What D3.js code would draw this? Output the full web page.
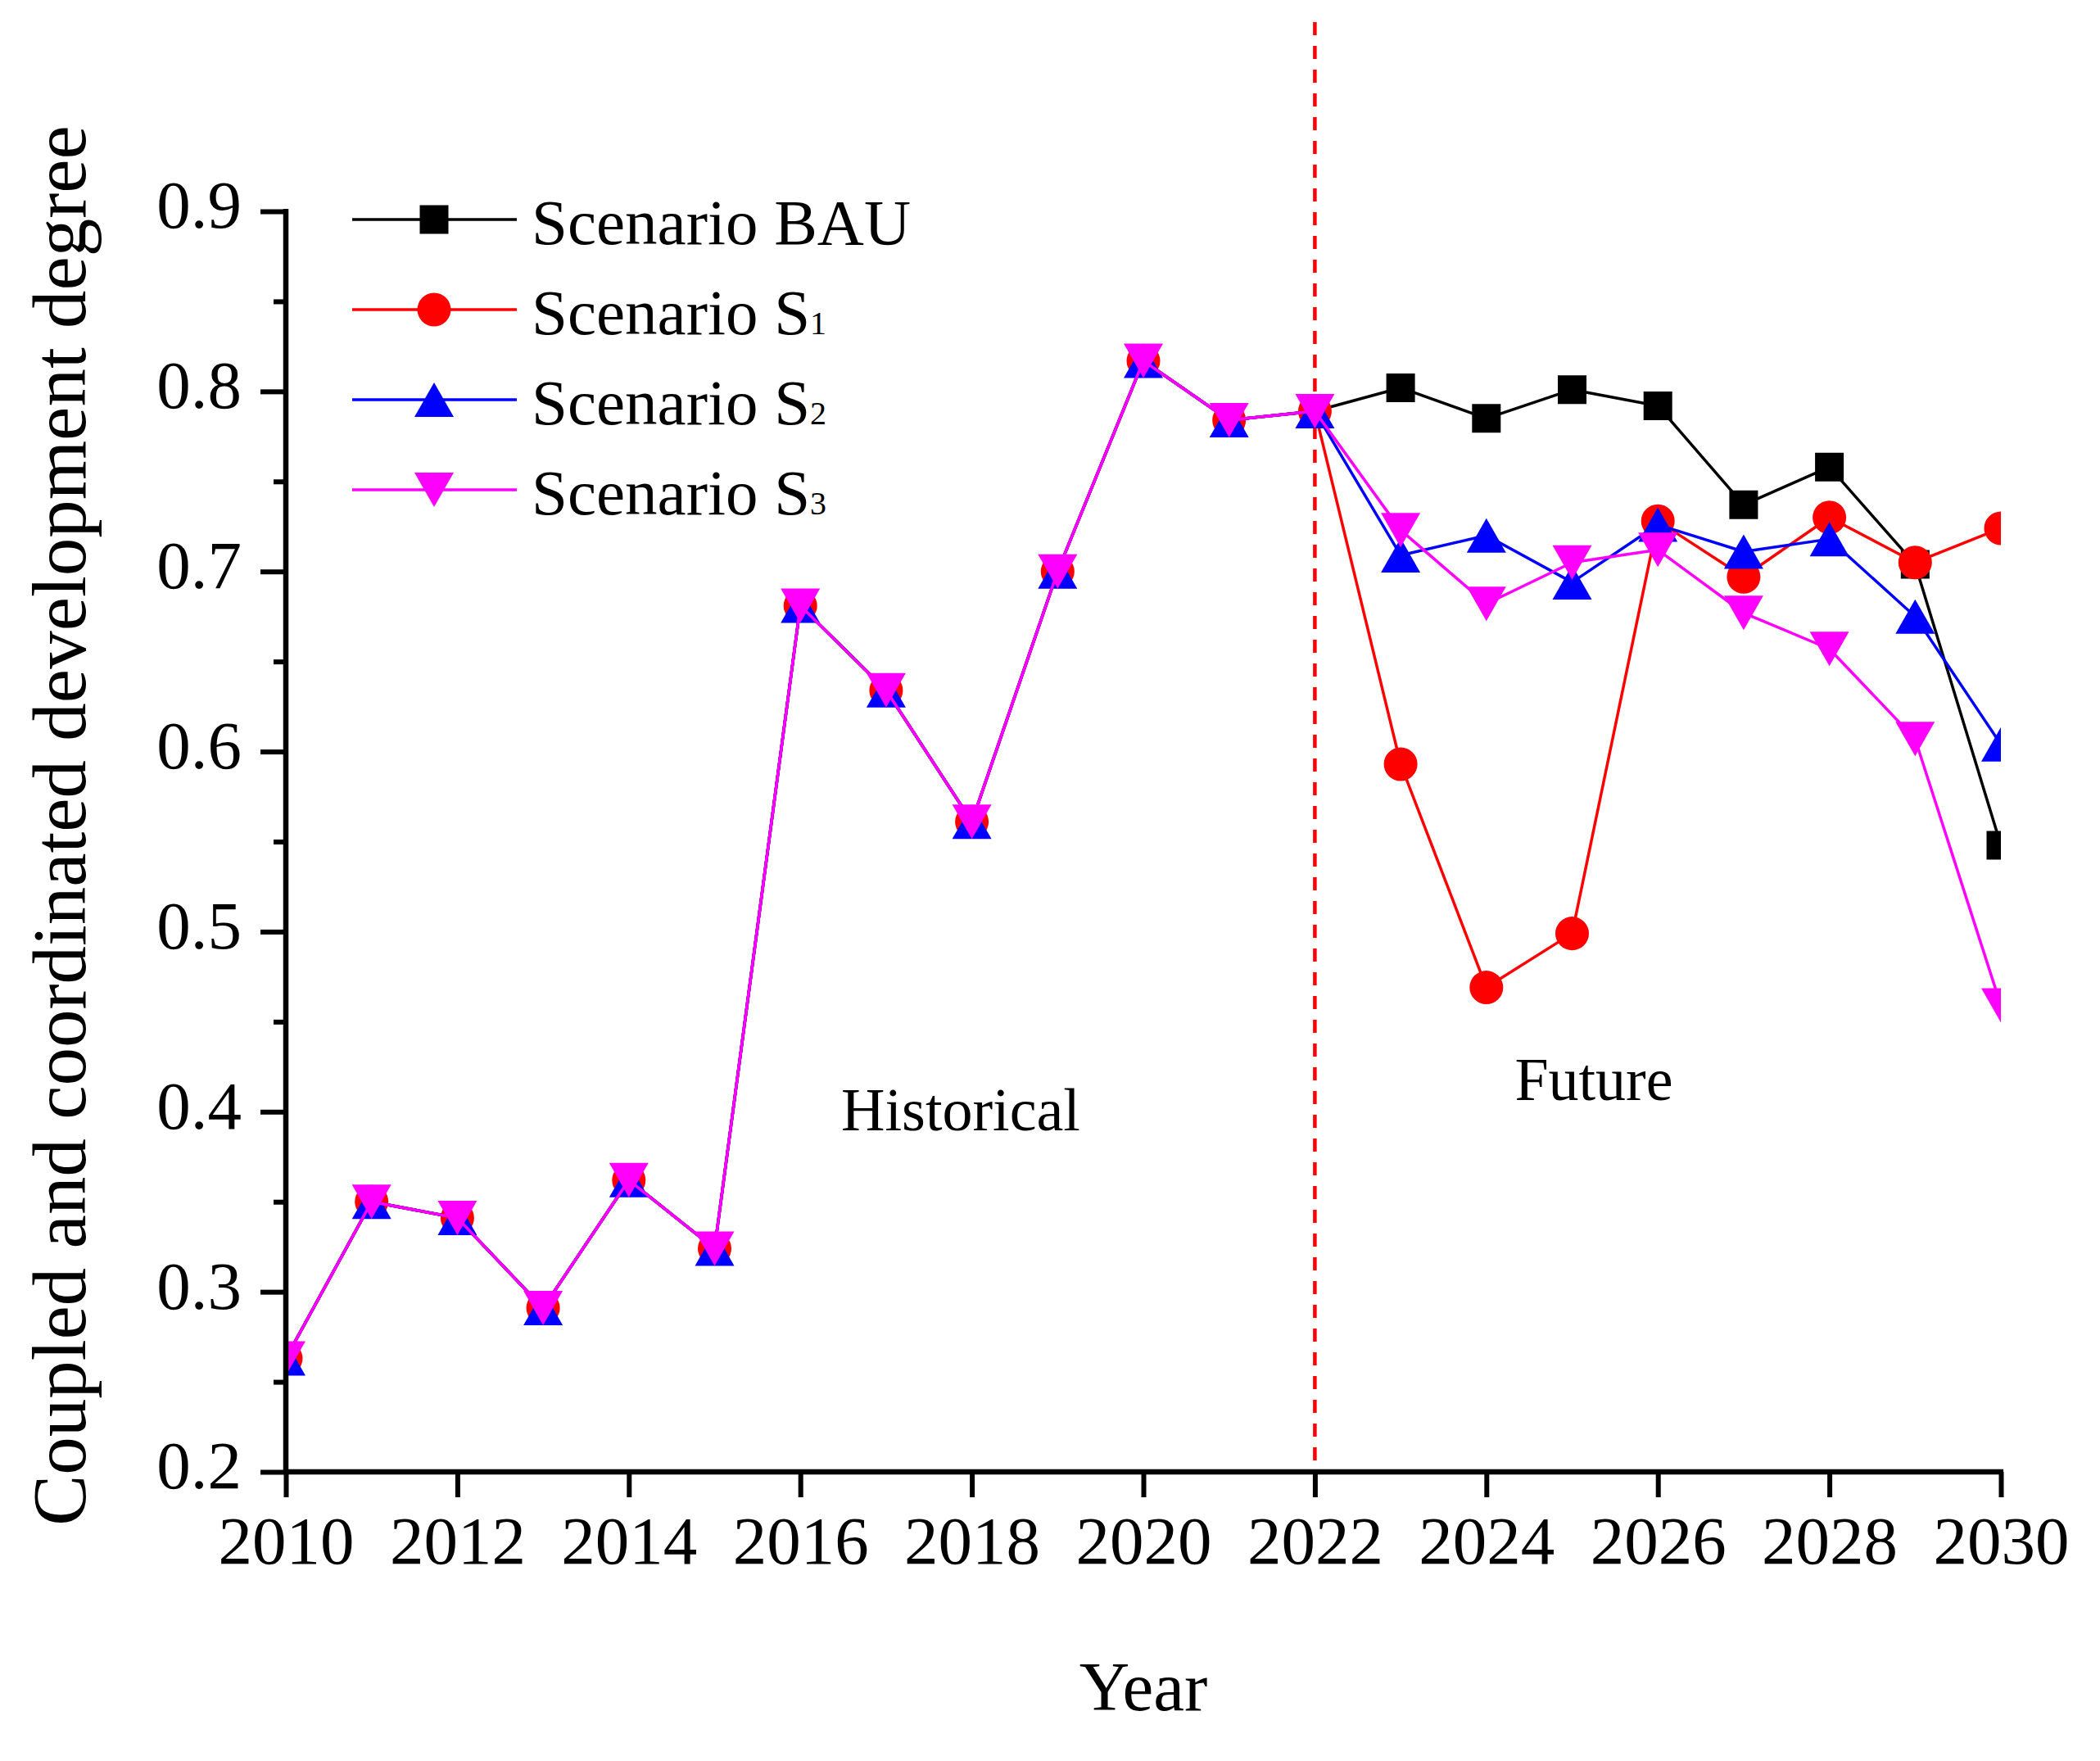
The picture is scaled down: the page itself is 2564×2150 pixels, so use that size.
<!DOCTYPE html>
<html>
<head>
<meta charset="utf-8">
<script src="https://cdn.jsdelivr.net/npm/d3@7/dist/d3.min.js"></script>
<style>
  html, body { margin: 0; padding: 0; background: #fff; }
  svg text { font-family: "Liberation Serif", "Times New Roman", serif; fill: #000; }
</style>
</head>
<body>
<svg id="chart" width="2564" height="2150"></svg>
<script>
// ---- data ----
const years = [2010,2011,2012,2013,2014,2015,2016,2017,2018,2019,2020,2021,2022,2023,2024,2025,2026,2027,2028,2029,2030];
const bau = [0.263,0.350,0.341,0.291,0.362,0.324,0.681,0.634,0.561,0.700,0.817,0.784,0.789,0.802,0.785,0.801,0.792,0.737,0.758,0.704,0.548];
const s1  = [0.263,0.350,0.341,0.291,0.362,0.324,0.681,0.634,0.561,0.700,0.817,0.784,0.789,0.593,0.469,0.499,0.728,0.697,0.730,0.705,0.724];
const s2  = [0.263,0.350,0.341,0.291,0.362,0.324,0.681,0.634,0.561,0.700,0.817,0.784,0.789,0.709,0.720,0.694,0.726,0.711,0.718,0.675,0.604];
const s3  = [0.263,0.350,0.341,0.291,0.362,0.324,0.681,0.634,0.561,0.700,0.817,0.784,0.789,0.723,0.682,0.705,0.712,0.677,0.657,0.607,0.459];
const seriesNames = ["Scenario BAU", "Scenario S", "Scenario S", "Scenario S"];
const seriesSubs = ["", "1", "2", "3"];
const seriesColors = ["#000000", "#ff0000", "#0000ff", "#ff00ff"];
const seriesShapes = ["square", "circle", "triangleUp", "triangleDown"];
const xTicks = [2010,2012,2014,2016,2018,2020,2022,2024,2026,2028,2030];
const yTicks = [0.2,0.3,0.4,0.5,0.6,0.7,0.8,0.9];
const yMinorTicks = [0.25,0.35,0.45,0.55,0.65,0.75,0.85];
const dividerYear = 2022;

// ---- layout ----
const svg = d3.select("#chart");
svg.append("rect").attr("width", 2564).attr("height", 2150).attr("fill", "#fff");
const L = 349, R = 2443, T = 258, B = 1797;
const x = d3.scaleLinear().domain([2010, 2030]).range([L, R]);
const y = d3.scaleLinear().domain([0.2, 0.9]).range([B, T]);

// custom symbols
const shapes = {
  square: { draw(c) { const h = 17.5; c.rect(-h, -h, 2*h, 2*h); } },
  circle: { draw(c) { c.moveTo(20.5, 0); c.arc(0, 0, 20.5, 0, 2*Math.PI); } },
  triangleUp: { draw(c) { c.moveTo(0, -21); c.lineTo(24, 21); c.lineTo(-24, 21); c.closePath(); } },
  triangleDown: { draw(c) { c.moveTo(0, 21); c.lineTo(24, -21); c.lineTo(-24, -21); c.closePath(); } }
};

svg.append("defs").append("clipPath").attr("id", "plotclip")
  .append("rect").attr("x", L).attr("y", 0).attr("width", R - L).attr("height", B);

// divider
svg.append("line")
  .attr("x1", x(dividerYear)).attr("x2", x(dividerYear))
  .attr("y1", 27).attr("y2", B - 8)
  .attr("stroke", "#ff0000").attr("stroke-width", 4.5)
  .attr("stroke-dasharray", "16,13");

// series
const allSeries = [bau, s1, s2, s3];
const plot = svg.append("g").attr("clip-path", "url(#plotclip)");
const line = d3.line().x((d, i) => x(years[i])).y(d => y(d));
allSeries.forEach((vals, si) => {
  const g = plot.append("g");
  g.append("path").datum(vals).attr("d", line)
    .attr("fill", "none").attr("stroke", seriesColors[si]).attr("stroke-width", 3.5)
    .attr("stroke-linejoin", "round");
  const sym = d3.symbol().type(shapes[seriesShapes[si]]);
  g.selectAll("path.m").data(vals).join("path").attr("class", "m")
    .attr("d", sym)
    .attr("transform", (d, i) => `translate(${x(years[i])},${y(d)})`)
    .attr("fill", seriesColors[si]);
});

// axes
const axisW = 6.5;
const yAxis = d3.axisLeft(y).tickValues(yTicks).tickSize(31).tickFormat(d3.format(".1f"));
const gy = svg.append("g").attr("transform", `translate(${L},0)`).call(yAxis);
gy.select(".domain").remove();
gy.selectAll(".tick line").attr("stroke", "#000").attr("stroke-width", 6);
gy.selectAll(".tick text").attr("x", -54).attr("dy", "0.24em")
  .style("font-size", "83px").attr("text-anchor", "end");
const yMinor = d3.axisLeft(y).tickValues(yMinorTicks).tickSize(15).tickFormat("");
const gym = svg.append("g").attr("transform", `translate(${L},0)`).call(yMinor);
gym.select(".domain").remove();
gym.selectAll(".tick line").attr("stroke", "#000").attr("stroke-width", 6);

const xAxis = d3.axisBottom(x).tickValues(xTicks).tickSize(31).tickFormat(d3.format("d"));
const gx = svg.append("g").attr("transform", `translate(0,${B})`).call(xAxis);
gx.select(".domain").remove();
gx.selectAll(".tick line").attr("stroke", "#000").attr("stroke-width", 6);
gx.selectAll(".tick text").attr("y", 112).attr("dy", 0)
  .style("font-size", "83px");

// axis lines
svg.append("line").attr("x1", L).attr("x2", L).attr("y1", T - 3).attr("y2", B + 3)
  .attr("stroke", "#000").attr("stroke-width", axisW);
svg.append("line").attr("x1", L - 3).attr("x2", R + 3).attr("y1", B).attr("y2", B)
  .attr("stroke", "#000").attr("stroke-width", axisW);

// axis titles
svg.append("text").attr("x", (L + R) / 2).attr("y", 2088)
  .attr("text-anchor", "middle").style("font-size", "85px").text("Year");
svg.append("text").attr("transform", "translate(104,1008) rotate(-90)")
  .attr("text-anchor", "middle").style("font-size", "93px")
  .text("Coupled and coordinated development degree");

// annotations
svg.append("text").attr("x", 1173).attr("y", 1380).attr("text-anchor", "middle")
  .style("font-size", "74px").text("Historical");
svg.append("text").attr("x", 1946).attr("y", 1343).attr("text-anchor", "middle")
  .style("font-size", "74px").text("Future");

// legend
const legY0 = 268, legDY = 110;
seriesNames.forEach((name, i) => {
  const cy = legY0 + i * legDY;
  const g = svg.append("g");
  g.append("line").attr("x1", 430).attr("x2", 631).attr("y1", cy).attr("y2", cy)
    .attr("stroke", seriesColors[i]).attr("stroke-width", 3.5);
  g.append("path").attr("d", d3.symbol().type(shapes[seriesShapes[i]])())
    .attr("transform", `translate(530,${cy})`).attr("fill", seriesColors[i]);
  const t = g.append("text").attr("x", 649).attr("y", cy + 30).style("font-size", "79px");
  t.append("tspan").text(name);
  if (seriesSubs[i]) t.append("tspan").style("font-size", "40px").text(seriesSubs[i]);
});
</script>
</body>
</html>
